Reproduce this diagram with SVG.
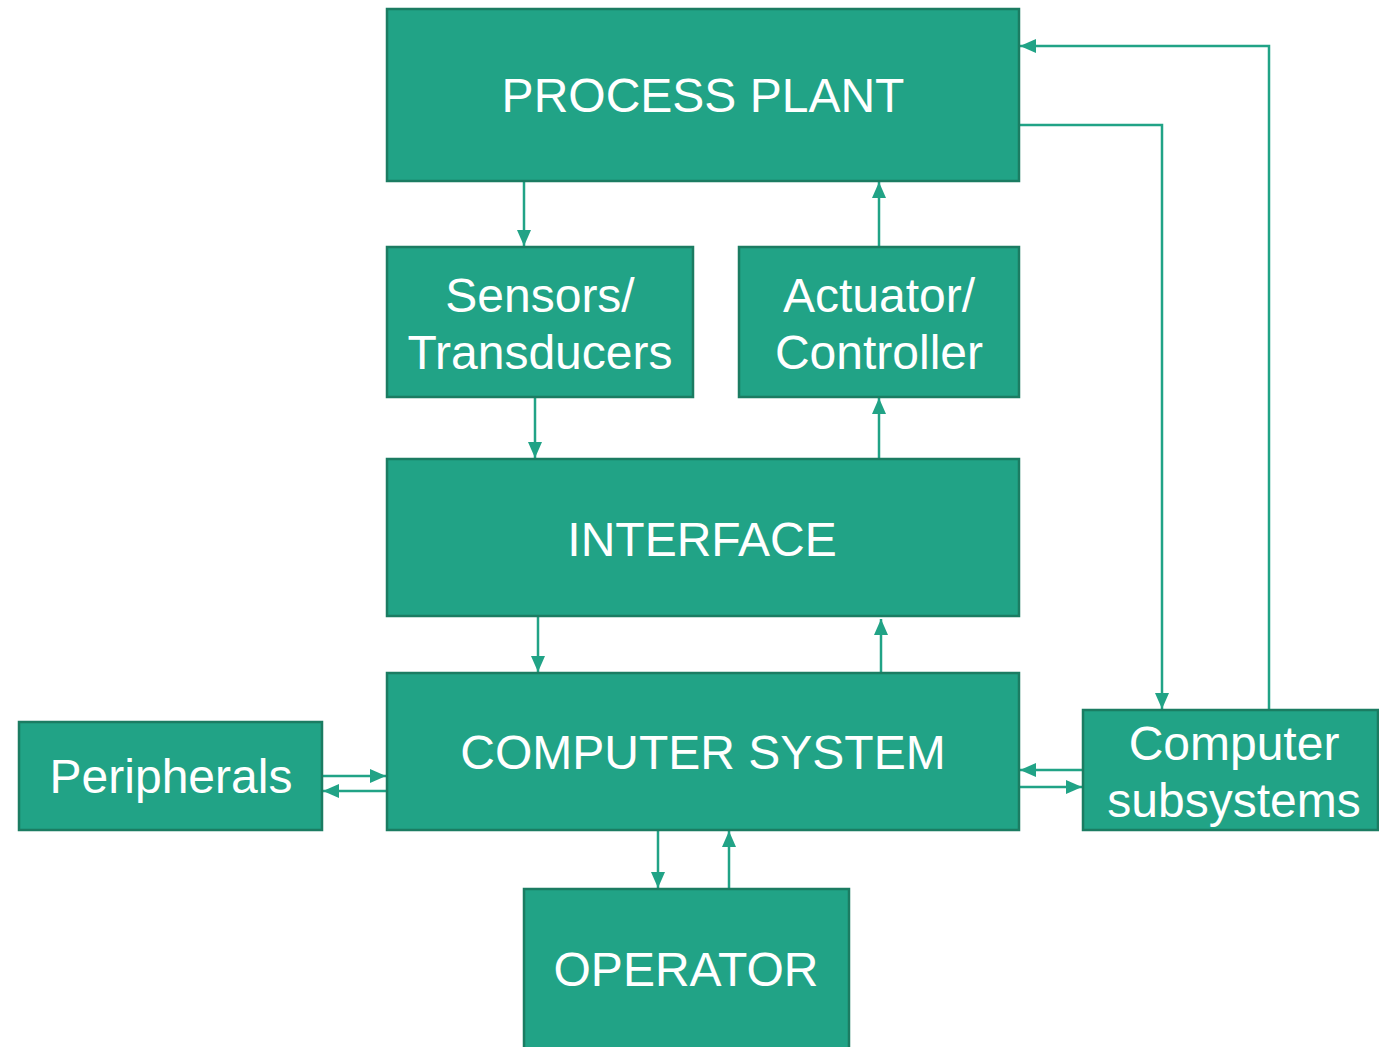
<svg xmlns="http://www.w3.org/2000/svg" width="1379" height="1047" viewBox="0 0 1379 1047">
<style>
.box{fill:#21a386;stroke:#1b7c62;stroke-width:2.5}
.t{fill:#fff;font-family:"Liberation Sans",Arial,sans-serif;font-size:48px;text-anchor:middle}
.c{fill:none;stroke:#21a386;stroke-width:2.5}
</style>
<defs>
<marker id="ah" viewBox="0 0 16 14" refX="16" refY="7" markerWidth="16" markerHeight="14" markerUnits="userSpaceOnUse" orient="auto">
<path d="M0,0 L16,7 L0,14 Z" fill="#21a386"/>
</marker>
</defs>
<rect width="1379" height="1047" fill="#fff"/>
<g id="connectors">
<line class="c" x1="524" y1="182" x2="524" y2="246" marker-end="url(#ah)"/>
<line class="c" x1="879" y1="246" x2="879" y2="182" marker-end="url(#ah)"/>
<line class="c" x1="535" y1="398" x2="535" y2="458" marker-end="url(#ah)"/>
<line class="c" x1="879" y1="458" x2="879" y2="398" marker-end="url(#ah)"/>
<line class="c" x1="538" y1="617" x2="538" y2="672" marker-end="url(#ah)"/>
<line class="c" x1="881" y1="672" x2="881" y2="619" marker-end="url(#ah)"/>
<line class="c" x1="658" y1="831" x2="658" y2="888" marker-end="url(#ah)"/>
<line class="c" x1="729" y1="888" x2="729" y2="831" marker-end="url(#ah)"/>
<line class="c" x1="323" y1="776" x2="386" y2="776" marker-end="url(#ah)"/>
<line class="c" x1="386" y1="791" x2="323" y2="791" marker-end="url(#ah)"/>
<line class="c" x1="1082" y1="770" x2="1020" y2="770" marker-end="url(#ah)"/>
<line class="c" x1="1020" y1="787" x2="1082" y2="787" marker-end="url(#ah)"/>
<polyline class="c" points="1020,125 1162,125 1162,709" marker-end="url(#ah)"/>
<polyline class="c" points="1269,709 1269,46 1020,46" marker-end="url(#ah)"/>
</g>
<g id="process-plant"><rect class="box" x="387" y="9" width="632" height="172"/><text class="t" x="703" y="112">PROCESS PLANT</text></g>
<g id="sensors"><rect class="box" x="387" y="247" width="306" height="150"/><text class="t" x="540" y="312">Sensors/</text><text class="t" x="540" y="369">Transducers</text></g>
<g id="actuator"><rect class="box" x="739" y="247" width="280" height="150"/><text class="t" x="879" y="312">Actuator/</text><text class="t" x="879" y="369">Controller</text></g>
<g id="interface"><rect class="box" x="387" y="459" width="632" height="157"/><text class="t" x="702" y="556">INTERFACE</text></g>
<g id="computer-system"><rect class="box" x="387" y="673" width="632" height="157"/><text class="t" x="703" y="769">COMPUTER SYSTEM</text></g>
<g id="peripherals"><rect class="box" x="19" y="722" width="303" height="108"/><text class="t" x="171" y="793">Peripherals</text></g>
<g id="computer-subsystems"><rect class="box" x="1083" y="710" width="295" height="120"/><text class="t" x="1234" y="760">Computer</text><text class="t" x="1234" y="817">subsystems</text></g>
<g id="operator"><rect class="box" x="524" y="889" width="325" height="170"/><text class="t" x="686" y="986">OPERATOR</text></g>
</svg>
